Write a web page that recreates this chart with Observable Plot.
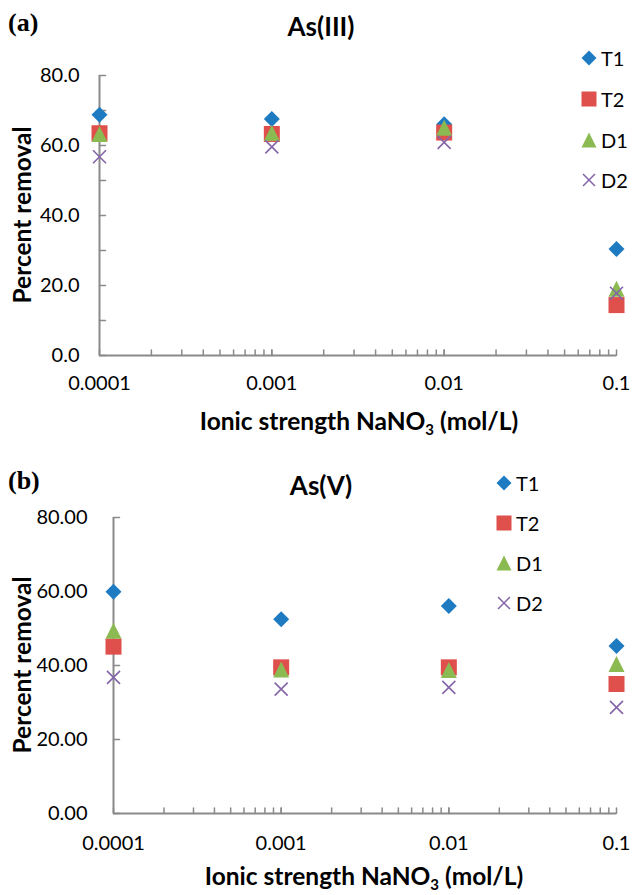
<!DOCTYPE html>
<html>
<head>
<meta charset="utf-8">
<script src="https://cdn.jsdelivr.net/npm/d3@7"></script>
<script src="https://cdn.jsdelivr.net/npm/@observablehq/plot@0.6"></script>
<style>
  html, body { margin: 0; padding: 0; background: #fff; }
  #wrap { position: relative; width: 632px; height: 895px; overflow: hidden; font-family: Lato, "Open Sans", sans-serif; color: #000; }
  .abs { position: absolute; white-space: nowrap; line-height: 1; }
  .title { font-weight: 700; font-size: 26px; transform: translate(-50%, -50%); }
  .panel { font-family: "Liberation Serif", "DejaVu Serif", serif; font-weight: 700; font-size: 26px; transform: translateY(-50%); }
  .xlab { font-weight: 700; font-size: 24.5px; transform: translate(-50%, -50%); }
  .xlab sub { font-size: 15px; vertical-align: -5px; line-height: 0; }
  .ylab { font-weight: 700; font-size: 24.5px; transform: translate(-50%, -50%) rotate(-90deg); }
  .leg { display: flex; align-items: center; font-size: 20px; transform: translateY(-50%); }
  .leg svg { display: block; margin-right: 3px; }
</style>
</head>
<body>
<div id="wrap">
  <div id="pa" class="abs" style="left:0;top:0"></div>
  <div id="pb" class="abs" style="left:0;top:447px"></div>
</div>
<script>
// ---------- data ----------
const concentrations = [0.0001, 0.001, 0.01, 0.1];
const series = ["T1", "T2", "D1", "D2"];
const xTicks = [0.0001, 0.001, 0.01, 0.1];
const xTickLabels = ["0.0001", "0.001", "0.01", "0.1"];
const yTicksA = [0, 20, 40, 60, 80];
const yTicksB = [0, 20, 40, 60, 80];

// As(III)
const asIII_T1 = [68.8, 67.6, 66.1, 30.4];
const asIII_T2 = [63.5, 63.3, 63.7, 14.4];
const asIII_D1 = [63.3, 63.6, 65.1, 19.1];
const asIII_D2 = [56.8, 59.6, 60.9, 17.8];
// As(V)
const asV_T1 = [59.9, 52.5, 56.1, 45.3];
const asV_T2 = [45.1, 39.5, 39.5, 35.0];
const asV_D1 = [49.4, 38.9, 38.8, 40.4];
const asV_D2 = [36.8, 33.6, 34.1, 28.7];

// ---------- styling ----------
const colors = {T1: "#1f7bc1", T2: "#df4f4b", D1: "#8cba52", D2: "#8465a8"};
const axisGray = "#8a8a8a";

const half = (size) => Math.sqrt(size / Math.PI);
const symbols = {
  T1: {draw(c, s) { const r = half(s); c.moveTo(0, -r); c.lineTo(r, 0); c.lineTo(0, r); c.lineTo(-r, 0); c.closePath(); }},
  T2: {draw(c, s) { const r = half(s); c.rect(-r, -r, 2 * r, 2 * r); }},
  D1: {draw(c, s) { const r = half(s); c.moveTo(0, -r); c.lineTo(r, r); c.lineTo(-r, r); c.closePath(); }},
  D2: {draw(c, s) { const r = half(s); c.moveTo(-r, -r); c.lineTo(r, r); c.moveTo(r, -r); c.lineTo(-r, r); }}
};
const markR = {T1: 8, T2: 8, D1: 8, D2: 6.5};
const tickShape = {draw(c, l) { c.moveTo(0, 0); c.lineTo(0, -l); }};

// minor log ticks
const xMinor = [];
for (const d of [0.0001, 0.001, 0.01]) for (let k = 1; k <= 10; k++) xMinor.push(+(d * k).toPrecision(3));

function rows(vals) { return concentrations.map((c, i) => ({c, v: vals[i]})); }

function panel({values, yTicks, yStep, yFmt, mt, mb, ml, mr, h, labelPad, xPad}) {
  const yInner = d3.range(0, 80 + 0.001, yStep);
  const marks = [
    Plot.ruleY([0], {stroke: axisGray, strokeWidth: 2}),
    Plot.ruleX([0.0001], {stroke: axisGray, strokeWidth: 2}),
    Plot.vector(xMinor, {x: d => d, y: 0, length: 5.5, rotate: 0, anchor: "start", shape: tickShape, stroke: axisGray, strokeWidth: 1.5}),
    Plot.vector(yInner, {x: 0.0001, y: d => d, length: 6, rotate: 90, anchor: "start", shape: tickShape, stroke: axisGray, strokeWidth: 1.5}),
    Plot.axisY({ticks: yTicks, tickSize: 0, tickPadding: labelPad, tickFormat: yFmt, label: null, fontSize: 20}),
    Plot.axisX({ticks: xTicks, tickSize: 0, tickPadding: xPad, tickFormat: d => xTickLabels[xTicks.indexOf(d)], label: null, fontSize: 20})
  ];
  for (const s of series) {
    const isX = s === "D2";
    marks.push(Plot.dot(rows(values[s]), {
      x: "c", y: "v", symbol: symbols[s], r: markR[s],
      fill: isX ? "none" : colors[s], stroke: isX ? colors[s] : "none", strokeWidth: isX ? 1.6 : 0
    }));
  }
  return Plot.plot({
    width: 632, height: h,
    marginTop: mt, marginBottom: mb, marginLeft: ml, marginRight: mr,
    x: {type: "log", domain: [0.0001, 0.1]},
    y: {domain: [0, 80]},
    style: {fontFamily: "Lato, 'Open Sans', sans-serif", fontSize: "20px", color: "#000", background: "transparent", overflow: "visible"},
    marks
  });
}

document.getElementById("pa").appendChild(panel({
  values: {T1: asIII_T1, T2: asIII_T2, D1: asIII_D1, D2: asIII_D2},
  yTicks: yTicksA, yStep: 10, yFmt: d => d.toFixed(1), mt: 75, mb: 92, ml: 99, mr: 16, h: 447, labelPad: 20, xPad: 20
}));
document.getElementById("pb").appendChild(panel({
  values: {T1: asV_T1, T2: asV_T2, D1: asV_D1, D2: asV_D2},
  yTicks: yTicksB, yStep: 20, yFmt: d => d.toFixed(2), mt: 70, mb: 82, ml: 113, mr: 16, h: 448, labelPad: 26, xPad: 22
}));

// ---------- texts ----------
const wrap = document.getElementById("wrap");
function addText(cls, html, left, top) {
  const el = document.createElement("div");
  el.className = "abs " + cls;
  el.innerHTML = html;
  el.style.left = left + "px";
  el.style.top = top + "px";
  wrap.appendChild(el);
  return el;
}
addText("panel", "(a)", 8, 23);
addText("panel", "(b)", 8, 481);
addText("title", "As(III)", 321, 26);
addText("title", "As(V)", 321, 485);
addText("xlab", "Ionic strength NaNO<sub>3</sub> (mol/L)", 359, 421);
addText("xlab", "Ionic strength NaNO<sub>3</sub> (mol/L)", 364, 876);
addText("ylab", "Percent removal", 22, 215);
addText("ylab", "Percent removal", 22, 665);

function legendSymbol(s) {
  const p = d3.path();
  const r = s === "D2" ? 6 : 7.5;
  symbols[s].draw(p, r * r * Math.PI);
  const isX = s === "D2";
  return `<svg width="18" height="18" viewBox="-9 -9 18 18"><path d="${p}" fill="${isX ? "none" : colors[s]}" stroke="${isX ? colors[s] : "none"}" stroke-width="1.5"/></svg>`;
}
const legA = [58, 99, 140, 180];
const legB = [483, 523, 563, 603];
series.forEach((s, i) => {
  addText("leg", legendSymbol(s) + s, 580, legA[i]);
  addText("leg", legendSymbol(s) + s, 495, legB[i]);
});
</script>
</body>
</html>
